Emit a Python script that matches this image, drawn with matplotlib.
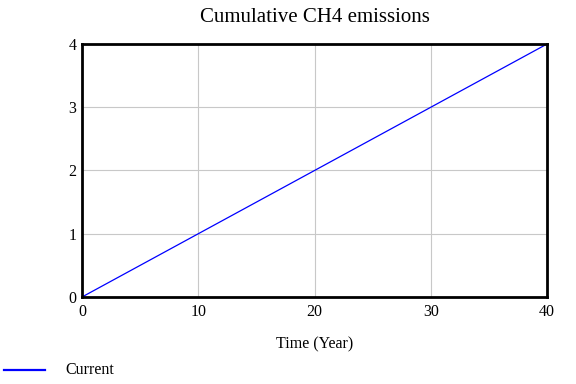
import matplotlib
matplotlib.use("Agg")
import matplotlib.pyplot as plt
from matplotlib.lines import Line2D

# data
years = [0, 10, 20, 30, 40]
current = [0, 1, 2, 3, 4]
x_ticks = [0, 10, 20, 30, 40]
y_ticks = [0, 1, 2, 3, 4]

plt.rcParams['font.family'] = ['Liberation Serif', 'DejaVu Serif']

fig = plt.figure(figsize=(5.76, 3.84), dpi=100)
ax = fig.add_axes([0.1424, 0.2266, 0.8073, 0.6588])

ax.plot(years, current, color="blue", linewidth=0.9)

ax.set_xlim(0, 40)
ax.set_ylim(0, 4)
ax.set_xticks(x_ticks)
ax.set_yticks(y_ticks)
ax.tick_params(length=0, labelsize=11.5)
ax.tick_params(axis="x", pad=5)
ax.tick_params(axis="y", pad=4)
ax.grid(True, color="#c8c8c8", linewidth=0.8)
ax.set_axisbelow(True)
for s in ax.spines.values():
    s.set_linewidth(2)

ax.set_xlabel("Time (Year)", fontsize=11.5, labelpad=12)
fig.text(ax.get_position().x0 + ax.get_position().width / 2, 1 - 18 / 384,
         "Cumulative CH4 emissions", ha="center", va="center", fontsize=15)

# legend at the bottom left
fig.lines.append(Line2D([4 / 576, 45 / 576], [1 - 370 / 384] * 2,
                        color="blue", linewidth=1.6, transform=fig.transFigure))
fig.text(65 / 576, 1 - 370 / 384, "Current", ha="left", va="center", fontsize=11.5)

fig.savefig("out.png", dpi=100)
